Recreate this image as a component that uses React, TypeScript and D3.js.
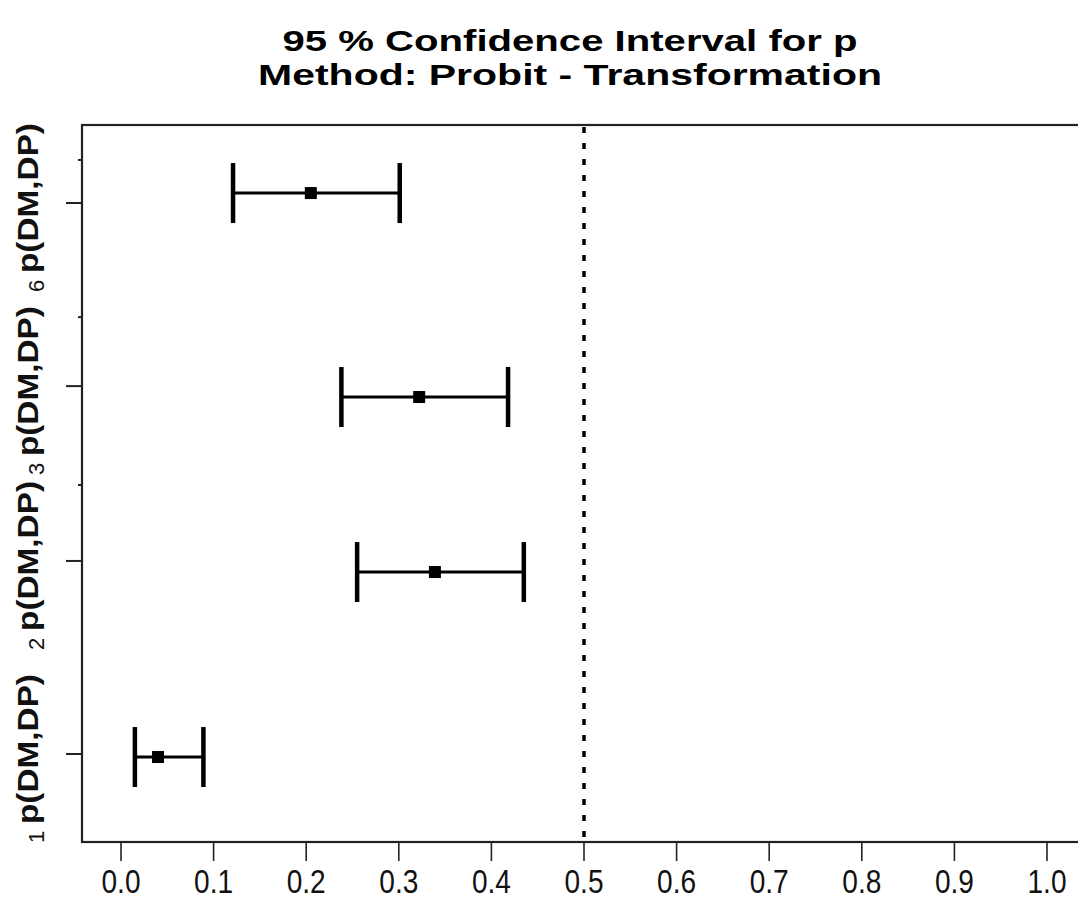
import React from "react";
import * as d3 from "d3";

const categories = ["1", "2", "3", "6"];
const labelText = ["p(DM,DP)", "p(DM,DP)", "p(DM,DP)", "p(DM,DP)"];
const estimates = [0.04, 0.339, 0.322, 0.205];
const lowers = [0.015, 0.255, 0.238, 0.121];
const uppers = [0.089, 0.435, 0.418, 0.301];
// vertical position (plot units) of each interval and of its axis label tick
const barPositions = [1.0, 1.984, 2.915, 4.0];
const labelPositions = [1.016, 2.043, 2.973, 3.947];
const minorTicks = [2.447, 3.34, 4.176];
const xTicks = [0, 0.1, 0.2, 0.3, 0.4, 0.5, 0.6, 0.7, 0.8, 0.9, 1.0];
const refValue = 0.5;
const titleLines = ["95 % Confidence Interval for p", "Method: Probit - Transformation"];

const W = 1078;
const H = 913;
const box = { left: 82, right: 1082, top: 125, bottom: 842 };

export default function App() {
  const x = d3.scaleLinear().domain([0, 1]).range([121, 1047]);
  const y = d3.scaleLinear().domain([0.548, 4.362]).range([box.bottom, box.top]);
  const capHalf = 30;
  const sq = 12;
  const font = "'Liberation Sans', Arial, sans-serif";

  return (
    <svg
      width={W}
      height={H}
      style={{ position: "absolute", left: 0, top: 0, background: "#fff" }}
      xmlns="http://www.w3.org/2000/svg"
    >
      <rect x={0} y={0} width={W} height={H} fill="#fff" />
      {/* title */}
      <text x={570} y={51} textAnchor="middle" fontFamily={font} fontWeight="bold" fontSize={30}
        textLength={575} lengthAdjust="spacingAndGlyphs" fill="#000">{titleLines[0]}</text>
      <text x={570} y={85} textAnchor="middle" fontFamily={font} fontWeight="bold" fontSize={30}
        textLength={624} lengthAdjust="spacingAndGlyphs" fill="#000">{titleLines[1]}</text>

      {/* box */}
      <rect x={box.left} y={box.top} width={box.right - box.left} height={box.bottom - box.top}
        fill="none" stroke="#222" strokeWidth={2.2} />

      {/* reference line */}
      <line x1={x(refValue)} x2={x(refValue)} y1={box.top + 2} y2={box.bottom}
        stroke="#000" strokeWidth={3.5} strokeDasharray="6,10" />

      {/* x axis ticks */}
      {xTicks.map((t) => (
        <g key={t}>
          <line x1={x(t)} x2={x(t)} y1={box.bottom} y2={box.bottom + 19} stroke="#222" strokeWidth={1.6} />
          <text x={x(t)} y={893} textAnchor="middle" fontFamily={font} fontSize={34}
            textLength={39} lengthAdjust="spacingAndGlyphs" fill="#111">{t.toFixed(1)}</text>
        </g>
      ))}

      {/* y axis ticks */}
      {labelPositions.map((p, i) => (
        <line key={"maj" + i} x1={66} x2={box.left} y1={y(p)} y2={y(p)} stroke="#222" strokeWidth={2} />
      ))}
      {minorTicks.map((p, i) => (
        <line key={"min" + i} x1={78} x2={box.left} y1={y(p)} y2={y(p)} stroke="#222" strokeWidth={2} />
      ))}

      {/* y labels */}
      {labelPositions.map((p, i) => {
        const yc = y(p);
        return (
          <g key={"lab" + i}>
            <text transform={`translate(44,${yc + 89}) rotate(-90)`} fontFamily={font} fontSize={22}
              fill="#111">{categories[i]}</text>
            <text transform={`translate(38,${yc + 70}) rotate(-90)`} fontFamily={font} fontWeight="bold"
              fontSize={29} textLength={150} lengthAdjust="spacingAndGlyphs" fill="#111">{labelText[i]}</text>
          </g>
        );
      })}

      {/* intervals */}
      {barPositions.map((p, i) => {
        const yc = y(p);
        return (
          <g key={"bar" + i}>
            <line x1={x(lowers[i])} x2={x(uppers[i])} y1={yc} y2={yc} stroke="#000" strokeWidth={3} />
            <line x1={x(lowers[i])} x2={x(lowers[i])} y1={yc - capHalf} y2={yc + capHalf} stroke="#000" strokeWidth={4.5} />
            <line x1={x(uppers[i])} x2={x(uppers[i])} y1={yc - capHalf} y2={yc + capHalf} stroke="#000" strokeWidth={4.5} />
            <rect x={x(estimates[i]) - sq / 2} y={yc - sq / 2} width={sq} height={sq} fill="#000" />
          </g>
        );
      })}
    </svg>
  );
}
